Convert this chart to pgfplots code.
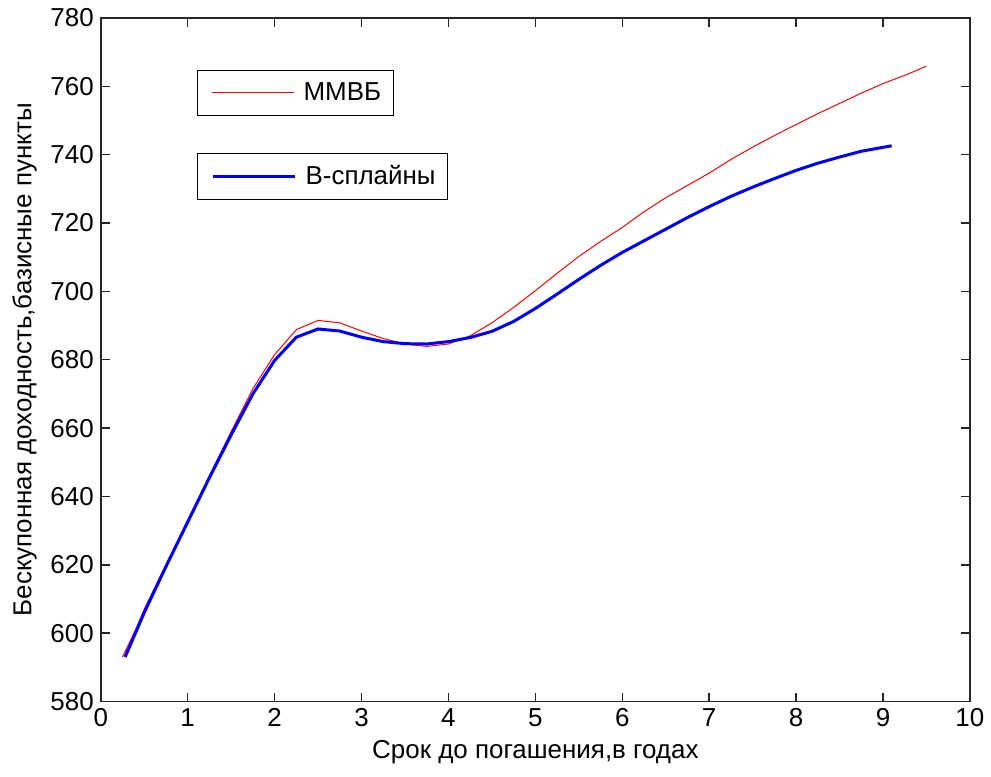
\documentclass[border=0pt]{standalone}
\usepackage{pgfplots}
\pgfplotsset{compat=1.18}
\usepackage{fontspec}
\setmainfont{Liberation Sans}

\pgfplotsset{
  base/.style={
    scale only axis,
    width=435.5pt, height=342.5pt,
    xmin=0, xmax=10, ymin=580, ymax=780,
    legend image code/.code={\path (0pt,0pt); \draw[##1] (3pt,0pt) -- (44pt,0pt);},
    legend style={draw=black, line width=0.6pt, inner xsep=4pt, inner ysep=4pt,
      anchor=north west, font=\fontsize{13}{15}\selectfont,
      column sep=2.5pt, cells={anchor=west}},
  },
}

\begin{document}
\begin{tikzpicture}
\begin{axis}[
  base, name=main,
  axis line style={line width=0.75pt, black!85},
  every tick/.style={line width=0.75pt, black!85},
  xtick={0,1,...,10},
  ytick={580,600,...,780},
  tick align=inside,
  major tick length=4.5pt,
  tick label style={font=\fontsize{13}{15}\selectfont},
  label style={font=\fontsize{13}{15}\selectfont},
  /pgf/number format/assume math mode=true,
  xlabel={Срок до погашения,в годах},
  ylabel={Бескупонная доходность,базисные пункты},
  legend style={at={(0.111,0.924)}},
]
% ММВБ
\addplot[red, line width=0.5pt] coordinates {
  (0.25,593) (0.4,601) (0.5,607) (0.75,620) (1,633) (1.25,646) (1.5,659)
  (1.75,671.5) (2,681.5) (2.25,688.8) (2.5,691.5) (2.75,690.8) (3,688.4)
  (3.25,686.2) (3.5,684.6) (3.75,683.9) (4,684.6) (4.25,687) (4.5,690.8)
  (4.75,695.3) (5,700.2) (5.25,705.3) (5.5,710.2) (5.75,714.6) (6,718.7)
  (6.25,723.3) (6.5,727.4) (6.75,731) (7,734.6) (7.25,738.6) (7.5,742.2)
  (7.75,745.6) (8,748.8) (8.25,752) (8.5,755) (8.75,758) (9,760.8)
  (9.25,763.2) (9.5,765.9)
};
\addlegendentry{ММВБ}
\end{axis}
\begin{axis}[
  base, hide axis,
  legend style={at={(0.111,0.803)}},
]
% B-сплайны
\addplot[blue, line width=1.5pt] coordinates {
  (0.28,593) (0.5,606) (0.75,619.5) (1,632.5) (1.25,645.5) (1.5,658)
  (1.75,670) (2,679.8) (2.25,686.6) (2.5,689) (2.75,688.4) (3,686.6)
  (3.25,685.3) (3.5,684.7) (3.75,684.6) (4,685.3) (4.25,686.5) (4.5,688.3)
  (4.75,691.2) (5,695) (5.25,699.2) (5.5,703.5) (5.75,707.6) (6,711.4)
  (6.25,714.8) (6.5,718.2) (6.75,721.6) (7,724.8) (7.25,727.8) (7.5,730.5)
  (7.75,733) (8,735.4) (8.25,737.5) (8.5,739.3) (8.75,741) (9.1,742.6)
};
\addlegendentry{B-сплайны}
\end{axis}
\path[use as bounding box] ([shift={(-50.5pt,-37.5pt)}]main.south west)
  rectangle ([shift={(9.5pt,9pt)}]main.north east);
\end{tikzpicture}
\end{document}
